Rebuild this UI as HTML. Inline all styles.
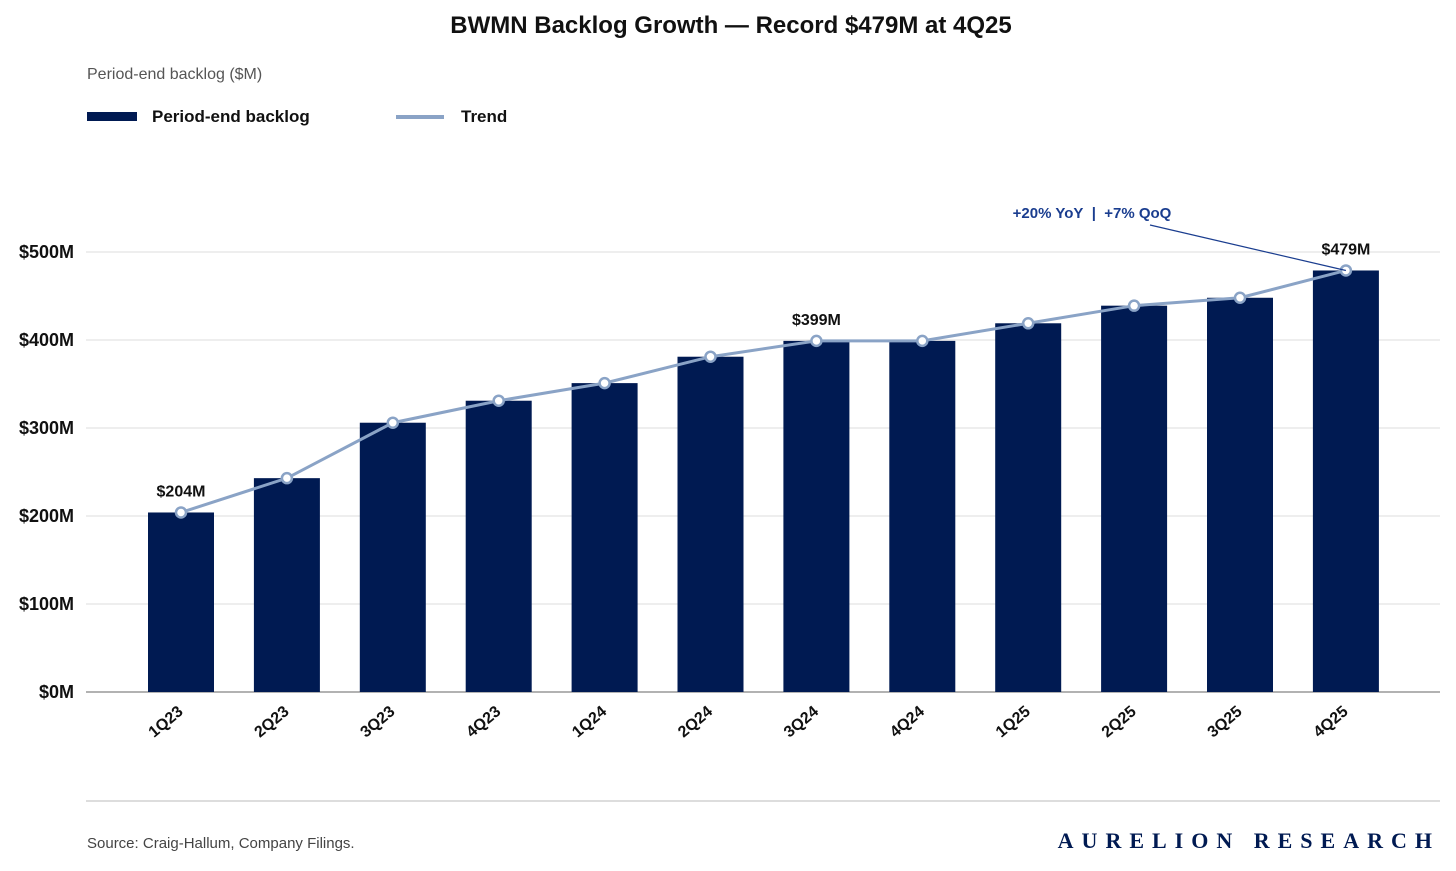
<!DOCTYPE html>
<html><head><meta charset="utf-8"><style>
body{margin:0;background:#fff;font-family:"Liberation Sans",sans-serif;}
</style></head><body>
<svg width="1456" height="871" xmlns="http://www.w3.org/2000/svg" style="display:block">
<text x="731" y="33" text-anchor="middle" font-size="24" font-weight="bold" fill="#111">BWMN Backlog Growth — Record $479M at 4Q25</text>
<text x="87" y="79" font-size="16" fill="#555">Period-end backlog ($M)</text>
<g>
<rect x="87" y="112" width="50" height="9" fill="#001a52"/>
<text x="152" y="122" font-size="17" font-weight="bold" fill="#111">Period-end backlog</text>
<line x1="396" y1="117" x2="444" y2="117" stroke="#8aa3c6" stroke-width="4"/>
<text x="461" y="122" font-size="17" font-weight="bold" fill="#111">Trend</text>
</g>
<g id="grid"></g><g id="bars"></g><g id="trend"></g><g id="labels"></g>
<line x1="86" y1="801" x2="1440" y2="801" stroke="#bbb"/>
<text x="87" y="848" font-size="15" fill="#444">Source: Craig-Hallum, Company Filings.</text>
<text x="1440" y="848" text-anchor="end" font-size="22" font-weight="bold" fill="#001a52" letter-spacing="8" font-family="Liberation Serif,serif">AURELION RESEARCH</text>
</svg>
<script>
const categories=["1Q23","2Q23","3Q23","4Q23","1Q24","2Q24","3Q24","4Q24","1Q25","2Q25","3Q25","4Q25"];
const backlog=[204,243,306,331,351,381,399,399,419,439,448,479];
const yTicks=[0,100,200,300,400,500];
const callouts=[0,6,11];
const NS="http://www.w3.org/2000/svg";
const y=v=>692-v*0.88;
const x=i=>181+i*105.9;
function mk(tag,attrs,parent,txt){const e=document.createElementNS(NS,tag);for(const k in attrs)e.setAttribute(k,attrs[k]);if(txt!==undefined)e.textContent=txt;document.getElementById(parent).appendChild(e);return e;}
yTicks.forEach(t=>{
 const l=mk('line',{x1:86,x2:1440,y1:y(t),y2:y(t),stroke:t===0?'#999':'#ddd','stroke-width':t===0?1.5:1},'grid');
 
 
 const tx=mk('text',{x:74,y:y(t)+6,'text-anchor':'end','font-size':18,'font-weight':'bold',fill:'#111'},'grid','$'+t+'M');
 
 
});
categories.forEach((c,i)=>{
 const b=mk('rect',{x:x(i)-33,y:y(backlog[i]),width:66,height:692-y(backlog[i]),fill:'#001a52'},'bars');
 
 
 const t=mk('text',{x:0,y:0,'text-anchor':'end','font-size':16,'font-weight':'bold',fill:'#111',transform:`translate(${x(i)+3},${713}) rotate(-40)`},'labels',c);
 
 
});
const pts=backlog.map((v,i)=>x(i)+','+y(v)).join(' ');
const pl=mk('polyline',{points:pts,fill:'none',stroke:'#8aa3c6','stroke-width':3},'trend');


backlog.forEach((v,i)=>{
 const c=mk('circle',{cx:x(i),cy:y(v),r:5,fill:'#fff',stroke:'#8aa3c6','stroke-width':2.5},'trend');
 
 
});
callouts.forEach(i=>{
 const t=mk('text',{x:x(i),y:y(backlog[i])-16,'text-anchor':'middle','font-size':16,'font-weight':'bold',fill:'#111'},'labels','$'+backlog[i]+'M');
 
 
});
const n=backlog.length-1;
const yoy=Math.round((backlog[n]/backlog[n-4]-1)*100), qoq=Math.round((backlog[n]/backlog[n-1]-1)*100);
const a=mk('text',{x:1092,y:218,'text-anchor':'middle','font-size':15,'font-weight':'bold',fill:'#1a3d8f'},'labels',`+${yoy}% YoY\u00a0\u00a0|\u00a0\u00a0+${qoq}% QoQ`);


const al=mk('line',{x1:1150,y1:225,x2:x(n),y2:y(backlog[n]),stroke:'#1a3d8f','stroke-width':1.2},'labels');


</script>
</body></html>
